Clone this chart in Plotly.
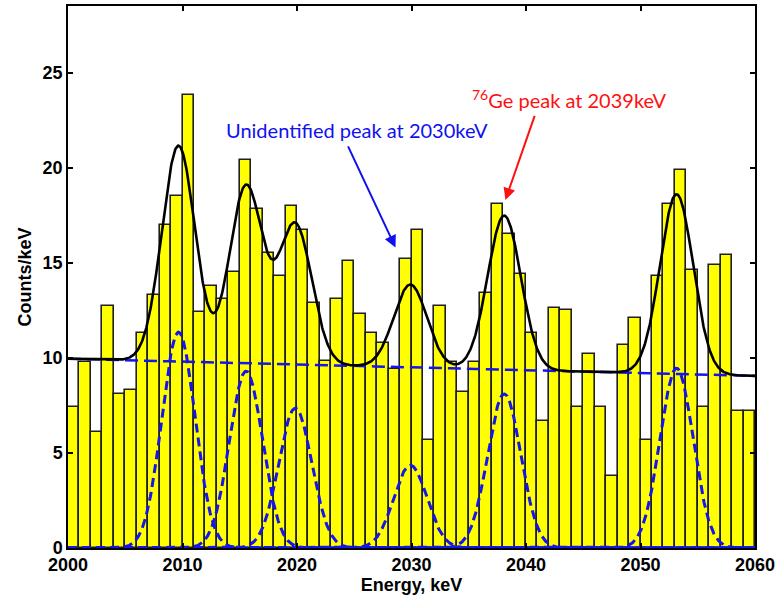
import numpy as np
import plotly.graph_objects as go

# ---- data ----
bin_left = list(range(2000, 2060))          # 1 keV bins
counts = [7.4, 9.8, 6.1, 12.7, 8.1, 8.3, 11.3, 13.3, 17.0, 18.5,
          23.8, 12.4, 13.8, 13.1, 14.5, 20.4, 17.8, 15.5, 14.3, 18.0,
          16.7, 12.9, 9.85, 13.1, 15.1, 12.3, 11.3, 10.8, 9.4, 15.2,
          16.7, 5.7, 12.7, 9.8, 8.2, 9.8, 13.4, 18.1, 16.5, 14.4,
          11.3, 6.7, 12.6, 12.5, 7.4, 10.2, 7.4, 3.8, 10.7, 12.1,
          5.7, 14.3, 18.1, 19.9, 14.6, 7.4, 14.9, 15.4, 7.2, 7.2]

# fit parameters
peak_centers = [2009.65, 2015.55, 2019.85, 2029.9, 2038.1, 2053.15]
peak_amps = [11.35, 9.3, 7.35, 4.35, 8.1, 9.45]
peak_sigma = [1.45, 1.45, 1.45, 1.45, 1.45, 1.45]
bkg_ends = [9.95, 9.05]   # linear background at 2000 and 2060 keV

x_ticks = [2000, 2010, 2020, 2030, 2040, 2050, 2060]
y_ticks = [0, 5, 10, 15, 20, 25]

# ---- model curves ----
E = np.linspace(2000, 2060, 1201)
bkg = bkg_ends[0] + (bkg_ends[1] - bkg_ends[0]) * (E - 2000) / 60.0
comps = [a * np.exp(-0.5 * ((E - c) / s) ** 2)
         for c, a, s in zip(peak_centers, peak_amps, peak_sigma)]
total = bkg + np.sum(comps, axis=0)

BLUE = "#1414f0"
fig = go.Figure()
fig.add_trace(go.Bar(x=[b + 0.5 for b in bin_left], y=counts, width=1.0,
                     marker=dict(color="#ffff00", line=dict(color="#1e1e1e", width=1.6)),
                     showlegend=False))
for comp in comps:
    fig.add_trace(go.Scatter(x=E, y=comp, mode="lines",
                             line=dict(color=BLUE, width=3, dash="9px,5px"),
                             showlegend=False))
fig.add_trace(go.Scatter(x=E, y=bkg, mode="lines",
                         line=dict(color=BLUE, width=2.5, dash="13px,6px"),
                         showlegend=False))
fig.add_trace(go.Scatter(x=E, y=total, mode="lines",
                         line=dict(color="black", width=2.6), showlegend=False))

tickfont = dict(family="Liberation Sans Narrow, Liberation Sans, Arial", size=18, color="black")
titlefont = dict(family="Liberation Sans Narrow, Liberation Sans, Arial", size=18, color="black")

fig.update_layout(
    width=784, height=608,
    margin=dict(l=68, r=29, t=4, b=60),
    plot_bgcolor="white", paper_bgcolor="white",
    bargap=0,
    xaxis=dict(range=[2000, 2060], tickvals=x_ticks,
               ticktext=[f"<b>{v}</b>" for v in x_ticks],
               ticks="inside", ticklen=5, tickwidth=1.5, tickcolor="black",
               showline=True, linecolor="black", linewidth=1.5, mirror="ticks",
               showgrid=False, zeroline=False, tickfont=tickfont,
               title=dict(text="<b>Energy, keV</b>", font=titlefont, standoff=2)),
    yaxis=dict(range=[0, 28.5], tickvals=y_ticks,
               ticktext=[f"<b>{v}</b>" for v in y_ticks],
               ticks="inside", ticklen=5, tickwidth=1.5, tickcolor="black",
               showline=True, linecolor="black", linewidth=1.5, mirror="ticks",
               showgrid=False, zeroline=False, tickfont=tickfont,
               title=dict(text="<b>Counts/keV</b>", font=titlefont, standoff=6)),
)

annfont = "Lato, Open Sans, sans-serif"
# arrows
fig.add_annotation(x=2028.6, y=15.8, ax=2024.4, ay=21.2, xref="x", yref="y",
                   axref="x", ayref="y", text="", showarrow=True,
                   arrowhead=2, arrowsize=1.2, arrowwidth=2, arrowcolor="#1010f0")
fig.add_annotation(x=2038.2, y=18.3, ax=2040.8, ay=22.8, xref="x", yref="y",
                   axref="x", ayref="y", text="", showarrow=True,
                   arrowhead=2, arrowsize=1.2, arrowwidth=2, arrowcolor="#ff1010")
# texts
fig.add_annotation(x=2025.2, y=22.0, xref="x", yref="y", showarrow=False,
                   text="Unidentified peak at 2030keV",
                   font=dict(family=annfont, size=20, color="#1010f0"))
fig.add_annotation(x=2043.8, y=23.6, xref="x", yref="y", showarrow=False,
                   text="<sup>76</sup>Ge peak at 2039keV",
                   font=dict(family=annfont, size=20, color="#ff1010"))

fig.write_html("out.html")
